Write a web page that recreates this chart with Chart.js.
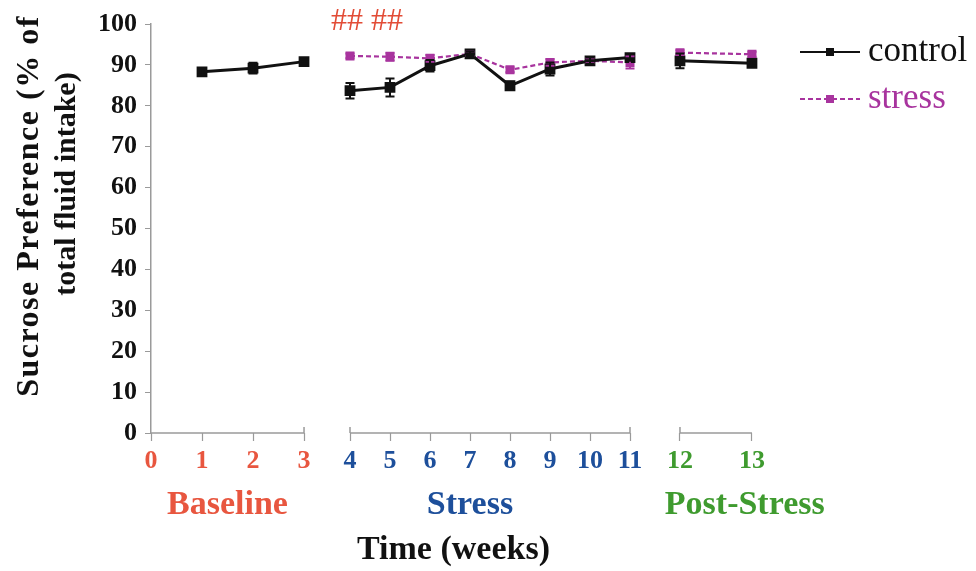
<!doctype html>
<html lang="en">
<head>
<meta charset="utf-8">
<title>Sucrose Preference</title>
<script src="https://cdn.jsdelivr.net/npm/chart.js@4.4.1/dist/chart.umd.min.js"></script>
<style>
  body { margin: 0; background: #fff; }
  #chartContainer { width: 976px; height: 571px; }
</style>
</head>
<body>
<div id="chartContainer"><canvas id="myChart" width="976" height="571"></canvas></div>
<script>
// weeks in each phase of the protocol
const baselineWeeks = [1, 2, 3];
const stressWeeks = [4, 5, 6, 7, 8, 9, 10, 11];
const postWeeks = [12, 13];

// sucrose preference (%), mean and SEM
const controlBaseline = [88.3, 89.2, 90.8];
const controlBaselineErr = [0.7, 1.3, 0.5];
const controlStress = [83.7, 84.5, 89.8, 92.7, 84.9, 89.0, 91.0, 91.8];
const controlStressErr = [1.9, 2.2, 1.4, 0.5, 1.0, 1.6, 0.8, 0.8];
const controlPost = [91.0, 90.4];
const controlPostErr = [1.8, 0.6];

const stressStress = [92.2, 92.0, 91.6, 92.7, 88.8, 90.6, 91.0, 90.6];
const stressStressErr = [0.6, 1.0, 0.8, 0.5, 0.6, 0.8, 0.6, 1.5];
const stressPost = [93.0, 92.6];
const stressPostErr = [0.6, 0.6];

// x tick labels per phase
const baselineTicks = [0, 1, 2, 3];
const stressTicks = [4, 5, 6, 7, 8, 9, 10, 11];
const postTicks = [12, 13];

const phaseNames = ['Baseline', 'Stress', 'Post-Stress'];
const phaseColors = ['#e8563f', '#1d4f9b', '#3f9b2f'];

// weeks flagged as significant (stress vs control)
const sigWeeks = [4, 5];
const sigMark = '##';

const yTitle = ['Sucrose Preference (% of', 'total fluid intake)'];
const xTitle = 'Time (weeks)';

const serif = "'Liberation Serif', 'Times New Roman', serif";
const black = '#111111';
const magenta = '#a8349e';
const axisGrey = '#9a9a9a';

const toPoints = (weeks, values) => weeks.map((w, i) => ({ x: w, y: values[i] }));

const controlStyle = {
    borderColor: black, backgroundColor: black, borderWidth: 3,
    pointStyle: 'rect', pointRadius: 5.5, pointHoverRadius: 5.5, clip: false
};
const stressStyle = {
    borderColor: magenta, backgroundColor: magenta, borderWidth: 2.2, borderDash: [5, 3],
    pointStyle: 'rect', pointRadius: 4.8, pointHoverRadius: 4.8, clip: false
};

// one linear axis per phase, stacked side by side along the bottom
const xAxis = (min, max, ticks, color, weight) => ({
    type: 'linear', position: 'bottom', stack: 'weeks', stackWeight: weight,
    min: min, max: max,
    afterBuildTicks: s => { s.ticks = ticks.map(v => ({ value: v })); },
    afterFit: s => { s.height = 138; },
    ticks: {
        color: color, padding: 5, maxRotation: 0, autoSkip: false,
        font: { family: serif, size: 26, weight: 'bold' },
        callback: v => String(v)
    },
    grid: { drawOnChartArea: false, tickLength: 8, tickColor: axisGrey, tickWidth: 1.2 },
    border: { display: false }
});

// error bars from the errors array on each dataset
const errorBars = {
    id: 'errorBars',
    afterDatasetsDraw(chart) {
        const ctx = chart.ctx;
        const y = chart.scales.y;
        const sets = chart.data.datasets;
        for (let i = sets.length - 1; i >= 0; i--) {
            const ds = sets[i];
            const meta = chart.getDatasetMeta(i);
            ctx.save();
            ctx.strokeStyle = ds.borderColor;
            ctx.lineWidth = 2;
            meta.data.forEach((pt, j) => {
                const v = ds.data[j].y, e = ds.errors[j];
                const top = y.getPixelForValue(v + e), bot = y.getPixelForValue(v - e);
                ctx.beginPath();
                ctx.moveTo(pt.x, top); ctx.lineTo(pt.x, bot);
                ctx.moveTo(pt.x - 4.5, top); ctx.lineTo(pt.x + 4.5, top);
                ctx.moveTo(pt.x - 4.5, bot); ctx.lineTo(pt.x + 4.5, bot);
                ctx.stroke();
            });
            ctx.restore();
        }
    }
};

// x axis line drawn only between the first and last tick of each phase
const brokenAxis = {
    id: 'brokenAxis',
    beforeDatasetsDraw(chart) {
        const ctx = chart.ctx, yPix = chart.chartArea.bottom;
        const parts = [['xBase', baselineTicks], ['xStress', stressTicks], ['xPost', postTicks]];
        ctx.save();
        ctx.strokeStyle = axisGrey;
        ctx.lineWidth = 1.5;
        parts.forEach(([id, ticks], k) => {
            const s = chart.scales[id];
            const a = s.getPixelForValue(ticks[0]);
            const b = s.getPixelForValue(ticks[ticks.length - 1]);
            ctx.beginPath();
            ctx.moveTo(a, yPix); ctx.lineTo(b, yPix);
            if (k > 0) { ctx.moveTo(a, yPix - 6); ctx.lineTo(a, yPix); }
            if (k < parts.length - 1) { ctx.moveTo(b, yPix - 6); ctx.lineTo(b, yPix); }
            ctx.stroke();
        });
        ctx.restore();
    }
};

// titles, phase names, significance marks and legend
const annotations = {
    id: 'annotations',
    afterDraw(chart) {
        const ctx = chart.ctx;
        const area = chart.chartArea;
        const sx = chart.scales.xStress;
        ctx.save();
        ctx.textAlign = 'center';
        ctx.textBaseline = 'middle';

        // y title, rotated
        ctx.fillStyle = black;
        ctx.save();
        ctx.font = `bold 32px ${serif}`;
        ctx.translate(30, 206);
        ctx.rotate(-Math.PI / 2);
        ctx.letterSpacing = '1.5px';
        ctx.fillText(yTitle[0], 0, 0);
        ctx.restore();
        ctx.save();
        ctx.font = `bold 30px ${serif}`;
        ctx.translate(67, 184);
        ctx.rotate(-Math.PI / 2);
        ctx.fillText(yTitle[1], 0, 0);
        ctx.restore();

        // phase names under the week ticks
        const anchors = [['xBase', 1.5], ['xStress', 7], ['xPost', 12.9]];
        ctx.font = `bold 34px ${serif}`;
        phaseNames.forEach((name, k) => {
            const [id, w] = anchors[k];
            ctx.fillStyle = phaseColors[k];
            ctx.fillText(name, chart.scales[id].getPixelForValue(w), 505);
        });

        ctx.fillStyle = black;
        ctx.font = `bold 34px ${serif}`;
        ctx.fillText(xTitle, (area.left + area.right) / 2, 550);

        // significance marks
        ctx.font = `32px ${serif}`;
        ctx.fillStyle = '#e24c36';
        sigWeeks.forEach(w => ctx.fillText(sigMark, sx.getPixelForValue(w) - 3, 22));

        // legend
        const entries = [[controlStyle, 'control', 52], [stressStyle, 'stress', 99]];
        entries.forEach(([st, text, y]) => {
            ctx.save();
            ctx.strokeStyle = st.borderColor;
            ctx.lineWidth = st === controlStyle ? 2 : 1.8;
            ctx.setLineDash(st.borderDash || []);
            ctx.beginPath();
            ctx.moveTo(800, y); ctx.lineTo(860, y);
            ctx.stroke();
            ctx.restore();
            ctx.fillStyle = st.backgroundColor;
            ctx.fillRect(826, y - 4, 8, 8);
            ctx.textAlign = 'left';
            ctx.font = `35px ${serif}`;
            ctx.fillText(text, 868, y);
        });
        ctx.restore();
    }
};

const ctx = document.getElementById('myChart');
new Chart(ctx, {
    type: 'line',
    data: {
        datasets: [
            { label: 'control', xAxisID: 'xBase', data: toPoints(baselineWeeks, controlBaseline), errors: controlBaselineErr, ...controlStyle },
            { label: 'control', xAxisID: 'xStress', data: toPoints(stressWeeks, controlStress), errors: controlStressErr, ...controlStyle },
            { label: 'control', xAxisID: 'xPost', data: toPoints(postWeeks, controlPost), errors: controlPostErr, ...controlStyle },
            { label: 'stress', xAxisID: 'xStress', data: toPoints(stressWeeks, stressStress), errors: stressStressErr, ...stressStyle },
            { label: 'stress', xAxisID: 'xPost', data: toPoints(postWeeks, stressPost), errors: stressPostErr, ...stressStyle }
        ]
    },
    options: {
        responsive: false,
        animation: false,
        layout: { padding: { top: 24, right: 220, left: 0, bottom: 0 } },
        plugins: { legend: { display: false }, tooltip: { enabled: false } },
        scales: {
            y: {
                min: 0, max: 100, position: 'left',
                afterFit: s => { s.width = 151; },
                ticks: {
                    stepSize: 5, color: black, padding: 8,
                    font: { family: serif, size: 26, weight: 'bold' },
                    callback: v => (v % 10 === 0 ? String(v) : '')
                },
                grid: { drawOnChartArea: false, tickLength: 6, tickColor: axisGrey },
                border: { color: axisGrey, width: 1.5 }
            },
            xBase: xAxis(0, 3.47, baselineTicks, phaseColors[0], 177),
            xStress: xAxis(3.45, 11.625, stressTicks, phaseColors[1], 327),
            xPost: xAxis(11.653, 13.056, postTicks, phaseColors[2], 101)
        }
    },
    plugins: [brokenAxis, errorBars, annotations]
});
</script>
</body>
</html>
